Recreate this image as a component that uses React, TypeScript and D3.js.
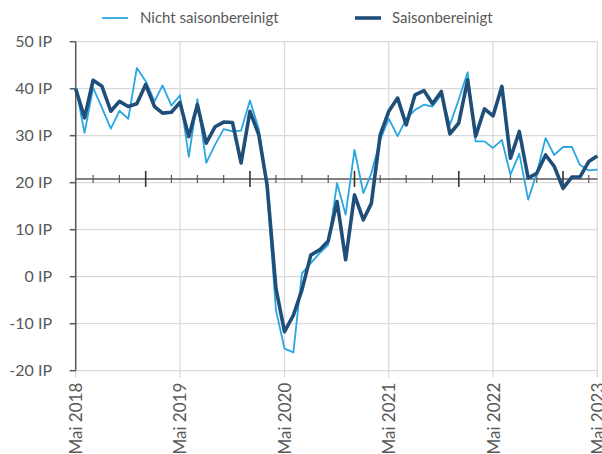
import React from "react";
import * as d3 from "d3";

const startMonth = "2018-05";
const yTicks = [-20, -10, 0, 10, 20, 30, 40, 50];
const yearLabels = ["Mai 2018", "Mai 2019", "Mai 2020", "Mai 2021", "Mai 2022", "Mai 2023"];
const seriesNames = ["Nicht saisonbereinigt", "Saisonbereinigt"];
const nichtSaisonbereinigt = [
  40.4, 30.6, 40.2, 35.9, 31.5, 35.3, 33.6, 44.4, 41.6, 37.3, 40.7, 36.4,
  38.6, 25.5, 37.8, 24.2, 28.1, 31.4, 30.9, 31.1, 37.5, 31.4, 18.5, -7.1,
  -15.3, -16.1, 0.7, 2.9, 5.0, 6.8, 19.9, 13.2, 27.0, 17.8, 22.0, 29.1,
  33.6, 29.9, 33.6, 35.5, 36.6, 36.2, 38.7, 32.3, 37.7, 43.5, 28.8, 28.8,
  27.4, 29.1, 21.7, 26.2, 16.4, 22.0, 29.5, 25.9, 27.6, 27.6, 23.8, 22.6,
  22.8,
];
const saisonbereinigt = [
  40.0, 33.8, 41.8, 40.5, 35.2, 37.3, 36.2, 36.8, 40.9, 36.2, 34.8, 35.0,
  37.1, 29.8, 36.6, 28.4, 31.9, 32.9, 32.8, 24.2, 35.2, 30.2, 19.5, -2.5,
  -11.7, -8.2, -2.8, 4.6, 5.7, 7.6, 16.0, 3.6, 17.4, 12.1, 15.6, 30.2,
  35.2, 38.0, 32.3, 38.7, 39.6, 36.8, 39.4, 30.4, 32.7, 41.9, 29.9, 35.7,
  34.2, 40.5, 25.2, 30.9, 21.0, 22.0, 25.9, 23.5, 18.8, 21.2, 21.2, 24.5,
  25.7,
];
const axisCross = 20.8;

const FONT = "Lato, 'Open Sans', sans-serif";
const LIGHT = "#2AA7E1";
const DARK = "#1F4E79";
const GRID = "#D9D9D9";
const AXIS = "#595959";

export default function App() {
  const start = d3.timeParse("%Y-%m")(startMonth)!;
  const dates = nichtSaisonbereinigt.map((_, i) => d3.timeMonth.offset(start, i));
  const end = dates[dates.length - 1];
  const x = d3.scaleTime().domain([start, end]).range([75.7, 597.3]);
  const y = d3.scaleLinear().domain([-20, 50]).range([370.7, 41.7]);
  const line = d3
    .line<number>()
    .x((_, i) => x(dates[i]))
    .y((d) => y(d));
  const years = yearLabels.map((_, i) => d3.timeYear.offset(start, i));
  const quarterTicks = d3.timeMonth
    .range(start, d3.timeMonth.offset(end, 1))
    .filter((d) => d.getMonth() % 3 === 0);
  const yAx = y(axisCross);
  const [x0, x1] = x.range();
  const [yb, yt] = y.range();

  return (
    <svg
      width={602}
      height={454}
      style={{ position: "absolute", left: 0, top: 0, background: "#fff" }}
      fontFamily={FONT}
    >
      {/* grid */}
      {yTicks.map((t) => (
        <line key={"h" + t} x1={x0} x2={x1} y1={y(t)} y2={y(t)} stroke={GRID} strokeWidth={1.2} />
      ))}
      {years.map((d, i) => (
        <line key={"v" + i} x1={x(d)} x2={x(d)} y1={yt} y2={yb + 7} stroke={GRID} strokeWidth={1.2} />
      ))}
      {/* y axis */}
      <line x1={x0} x2={x0} y1={yt} y2={yb} stroke={AXIS} strokeWidth={1.5} />
      {yTicks.map((t) => (
        <g key={"yt" + t}>
          <line x1={x0 - 6} x2={x0} y1={y(t)} y2={y(t)} stroke={AXIS} strokeWidth={1.5} />
          <text x={52} y={y(t)} dy="0.36em" textAnchor="end" fontSize={16} fill={AXIS}>
            {t} IP
          </text>
        </g>
      ))}
      {/* x axis */}
      <line x1={x0} x2={x1} y1={yAx} y2={yAx} stroke={AXIS} strokeWidth={1.6} />
      {quarterTicks.map((d, i) => {
        const major = d.getMonth() === 0;
        return (
          <line
            key={"xt" + i}
            x1={x(d)}
            x2={x(d)}
            y1={yAx - (major ? 8 : 4)}
            y2={yAx + (major ? 8 : 4)}
            stroke={major ? "#333" : AXIS}
            strokeWidth={major ? 1.6 : 1.2}
          />
        );
      })}
      {years.map((d, i) => (
        <text
          key={"xl" + i}
          transform={`translate(${x(d) + 6.5},${yb + 12}) rotate(-90)`}
          textAnchor="end"
          fontSize={17}
          fill={AXIS}
        >
          {yearLabels[i]}
        </text>
      ))}
      {/* series */}
      <path d={line(nichtSaisonbereinigt)!} fill="none" stroke={LIGHT} strokeWidth={1.8} strokeLinejoin="round" />
      <path d={line(saisonbereinigt)!} fill="none" stroke={DARK} strokeWidth={3.6} strokeLinejoin="round" />
      {/* legend */}
      <line x1={102} x2={128} y1={18} y2={18} stroke={LIGHT} strokeWidth={1.8} />
      <text x={140} y={18} dy="0.35em" fontSize={15} fill={AXIS}>
        {seriesNames[0]}
      </text>
      <line x1={355} x2={381} y1={18} y2={18} stroke={DARK} strokeWidth={3.6} />
      <text x={392} y={18} dy="0.35em" fontSize={15} fill={AXIS}>
        {seriesNames[1]}
      </text>
    </svg>
  );
}
